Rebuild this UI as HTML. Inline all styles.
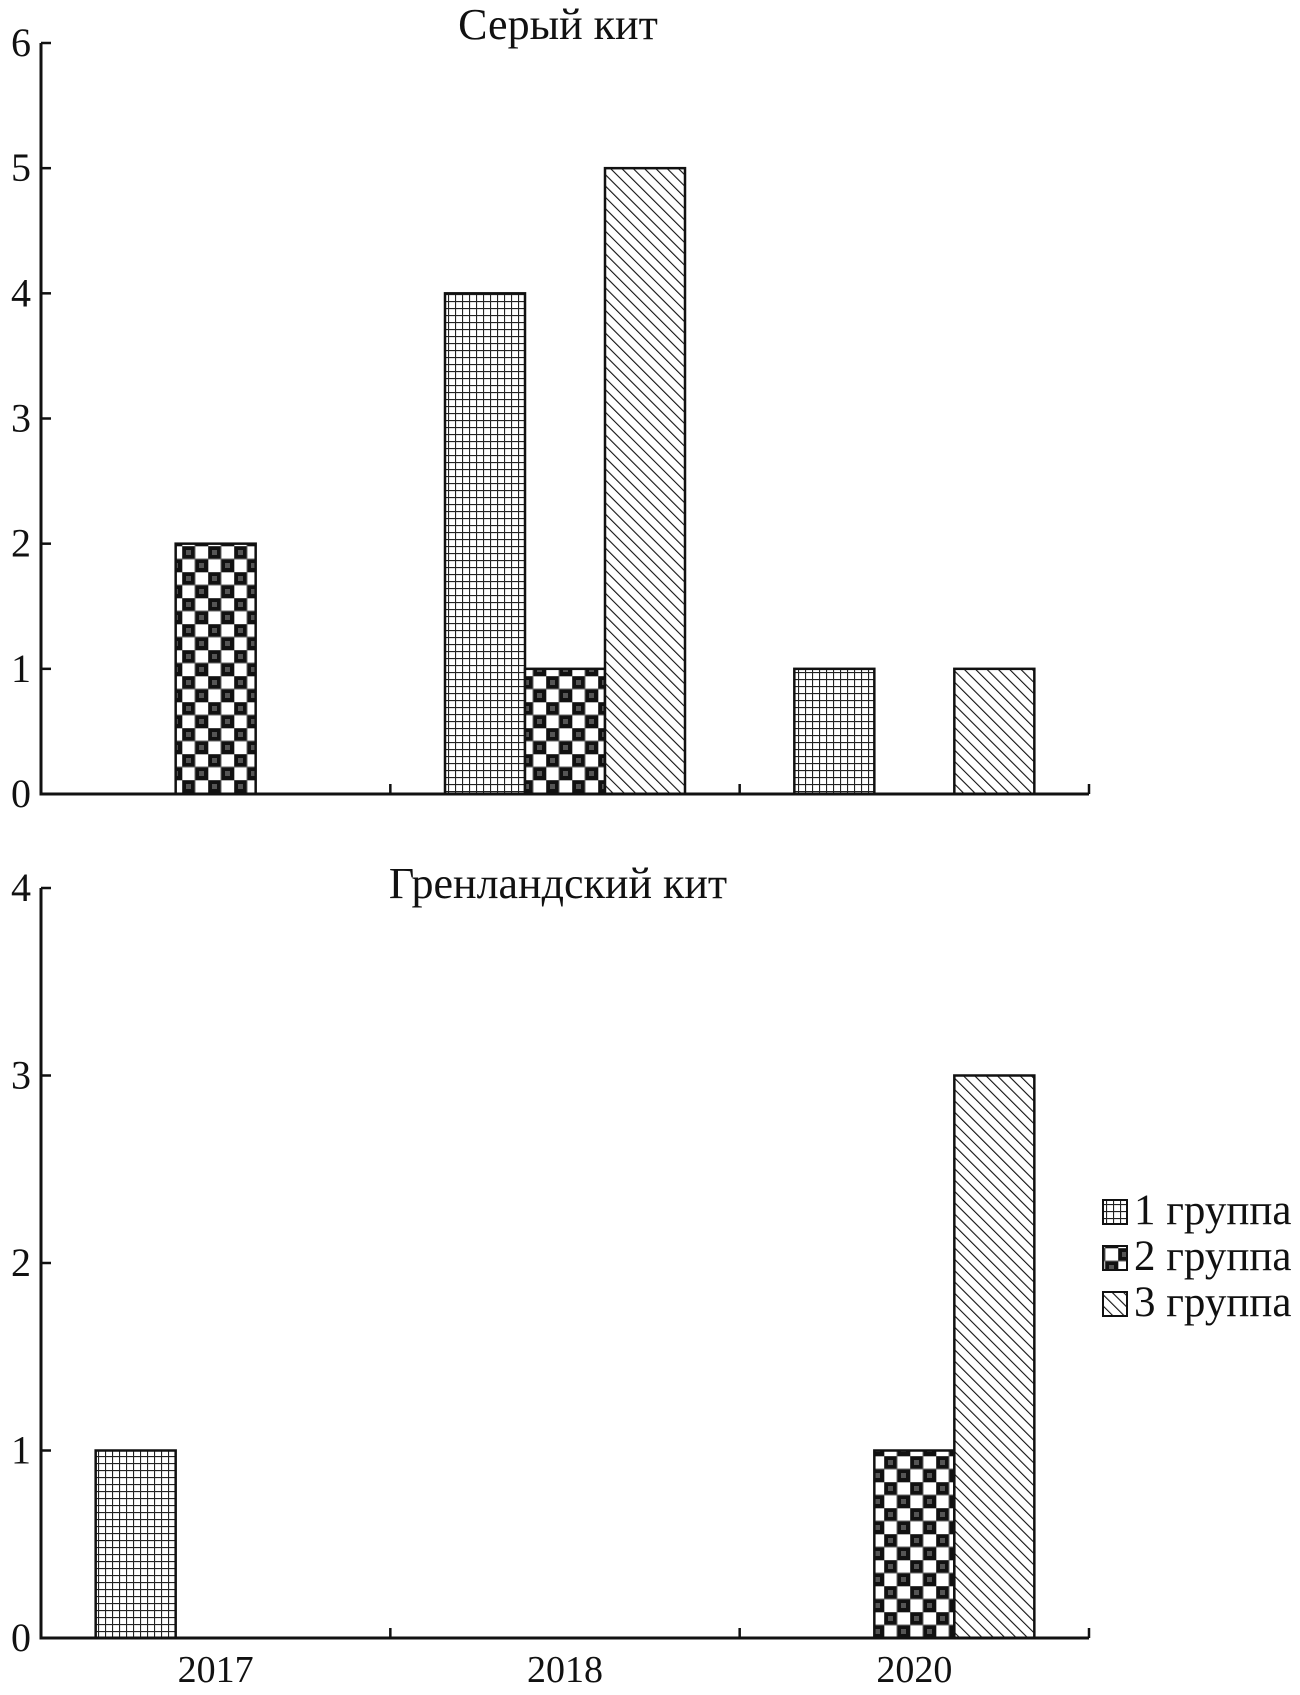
<!DOCTYPE html>
<html><head><meta charset="utf-8"><style>
body{margin:0;background:#fff}
svg{display:block}
text{font-family:"Liberation Serif",serif;fill:#111}
</style></head><body>
<svg id="chart" width="1300" height="1695" viewBox="0 0 1300 1695" xmlns="http://www.w3.org/2000/svg">
<defs>
<pattern id="p1" patternUnits="userSpaceOnUse" width="7" height="7"><rect width="7" height="7" fill="#fff"/><path d="M0 0.5H7M0.5 0V7" stroke="#222" stroke-width="1.2"/></pattern>
<pattern id="p2" patternUnits="userSpaceOnUse" width="26" height="26"><rect width="26" height="26" fill="#fff"/><rect x="0" y="0" width="13" height="13" fill="#111"/><rect x="13" y="13" width="13" height="13" fill="#111"/><rect x="4" y="4" width="5" height="5" fill="#555"/><rect x="17" y="17" width="5" height="5" fill="#555"/><path d="M0 0H26M0 13H26M0 0V26M13 0V26" stroke="#666" stroke-width="1"/></pattern>
<pattern id="p3" patternUnits="userSpaceOnUse" width="8" height="8" patternTransform="rotate(-45)"><rect width="8" height="8" fill="#fff"/><path d="M0 0V8" stroke="#111" stroke-width="2.2"/></pattern>
</defs>
<g id="g"></g>
</svg>
<script>
const categories = ["2017","2018","2020"];
const groups = ["1 группа","2 группа","3 группа"];
const grayValues = [[0,2,0],[4,1,5],[1,0,1]];
const bowheadValues = [[1,0,0],[0,0,0],[0,1,3]];
const grayTicks = [0,1,2,3,4,5,6];
const bowTicks = [0,1,2,3,4];
const titles = ["Серый кит","Гренландский кит"];

const NS="http://www.w3.org/2000/svg";
const root=document.getElementById('g');
function mk(tag,attrs,parent){const e=document.createElementNS(NS,tag);for(const k in attrs)e.setAttribute(k,attrs[k]);(parent||root).appendChild(e);return e;}
const X0=41,X1=1089,BW=80;
const catW=(X1-X0)/categories.length;
function xCat(i){return X0+catW*(i+0.5);}
function panel(values,ticks,yTop,yBot,title,titleY,key){
  const maxV=ticks[ticks.length-1];
  const y=v=>yBot-(yBot-yTop)*v/maxV;
  const g=mk('g',{});
  
  
  values.forEach((row,ci)=>{row.forEach((v,gi)=>{
    if(v<=0)return;
    const x=xCat(ci)+(gi-1.5)*BW;
    const r=mk('rect',{x:x,y:y(v),width:BW,height:yBot-y(v),fill:'url(#p'+(gi+1)+')',stroke:'#111','stroke-width':2.5},g);
    
    
  });});
  const ax=mk('path',{d:`M${X0} ${yTop}V${yBot}H${X1}`,stroke:'#111','stroke-width':3,fill:'none'},g);
  
  
  ticks.forEach(t=>{
    mk('line',{x1:X0,x2:X0+10,y1:y(t),y2:y(t),stroke:'#111','stroke-width':2.5},g);
    const tx=mk('text',{x:31,y:y(t)+13,'font-size':40,'text-anchor':'end'},g);
    tx.textContent=t;
    
    
  });
  for(let i=1;i<=categories.length;i++){
    mk('line',{x1:X0+catW*i,x2:X0+catW*i,y1:yBot,y2:yBot-10,stroke:'#111','stroke-width':2.5},g);
  }
  const tt=mk('text',{x:558,y:titleY,'font-size':44,'text-anchor':'middle'},g);
  tt.textContent=title;
  
  
  return y;
}
panel(grayValues,grayTicks,43,794,titles[0],39,'gray-whale');
panel(bowheadValues,bowTicks,888,1638,titles[1],898,'bowhead-whale');
categories.forEach((c,i)=>{
  const t=mk('text',{x:xCat(i),y:1682,'font-size':38,'text-anchor':'middle'});
  t.textContent=c;
  
  
});
groups.forEach((gname,i)=>{
  const y=1200+i*46;
  const lg=mk('g',{});
  
  
  mk('rect',{x:1103,y:y,width:24,height:24,fill:'url(#p'+(i+1)+')',stroke:'#111','stroke-width':2},lg);
  const t=mk('text',{x:1134,y:y+24,'font-size':43},lg);
  t.textContent=gname;
});
</script>
</body></html>
